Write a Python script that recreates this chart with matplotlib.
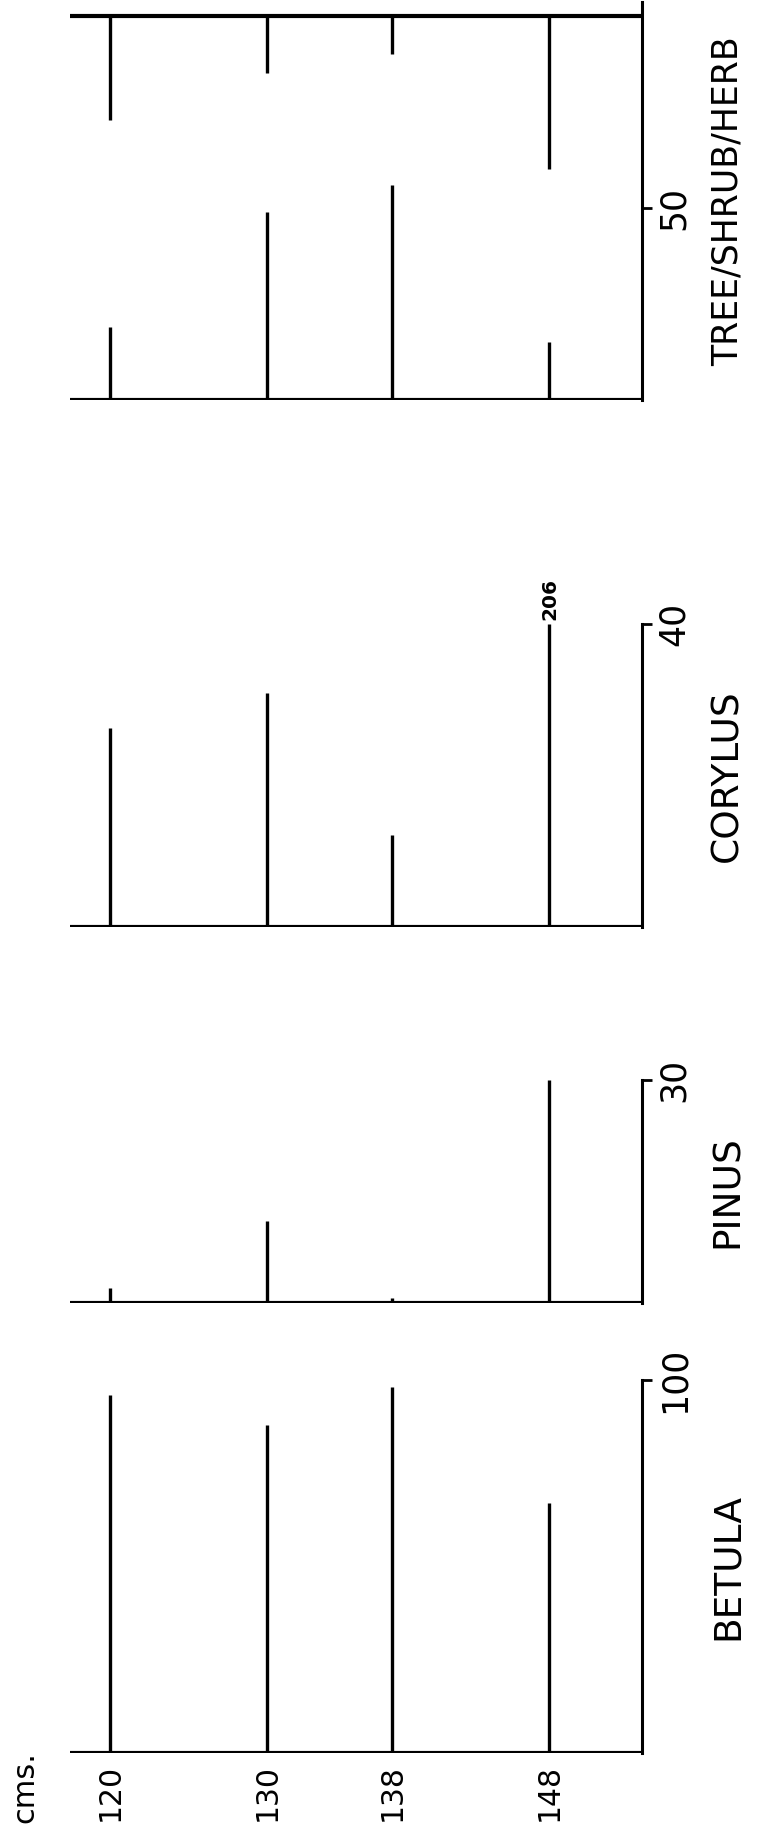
import numpy as np
import matplotlib
matplotlib.use("Agg")
import matplotlib.pyplot as plt

depths = [120, 130, 138, 148]
depth_labels = ["120", "130", "138", "148"]

betula = [96, 88, 98, 67]
pinus = [2, 11, 0.7, 30]
corylus = [26.3, 30.9, 12.1, 206]
tree = [19, 49, 56, 15]
herb = [27, 15, 10, 40]

W, H = 758, 1827
plt.rcParams['font.family'] = ['DejaVu Sans']

fig = plt.figure(figsize=(W / 100, H / 100), dpi=100)


def make_ax(y_base, y_top, ymax, tick, name, name_size=27):
    ax = fig.add_axes([70 / W, (H - y_base) / H, 572 / W, (y_base - y_top) / H])
    ax.set_xlim(117.45, 153.9)
    ax.set_ylim(0, ymax)
    for s in ['top', 'left', 'bottom']:
        ax.spines[s].set_visible(False)
    ax.spines['right'].set_linewidth(2.2)
    ax.spines['right'].set_bounds(0, ymax)
    ax.yaxis.tick_right()
    ax.set_yticks([tick])
    ax.set_yticklabels([str(tick)], rotation=90, va='center', fontsize=25)
    ax.tick_params(axis='y', direction='out', length=7, width=2, pad=4)
    ax.set_xticks([])
    ax.axhline(0, color='black', lw=3, solid_capstyle='butt')
    ax.text(1.15, 0.5, name, transform=ax.transAxes, rotation=90,
            ha='center', va='center', fontsize=name_size)
    ax.patch.set_alpha(0)
    return ax


# Betula
ax1 = make_ax(1753, 1380, 100, 100, "BETULA")
ax1.vlines(depths, 0, betula, color='black', lw=2.4)
ax1.set_xticks(depths)
ax1.set_xticklabels(depth_labels, rotation=90, fontsize=21.5)
ax1.tick_params(axis='x', length=0, pad=8)
fig.text(25 / W, 1 - 1787 / H, "cms.", rotation=90, ha='center', va='center', fontsize=22)

# Pinus
ax2 = make_ax(1303, 1080, 30, 30, "PINUS")
ax2.vlines(depths, 0, pinus, color='black', lw=2.4)

# Corylus
ax3 = make_ax(927, 624, 40, 40, "CORYLUS")
ax3.vlines(depths, 0, np.minimum(corylus, 40), color='black', lw=2.4)
for d, v in zip(depths, corylus):
    if v > 40:
        ax3.annotate(str(v), (d, 40), xytext=(0, 3), textcoords='offset points',
                     rotation=90, ha='center', va='bottom', fontsize=14.5, fontweight='bold')

# Tree / shrub / herb
ax4 = make_ax(400, 2, 103.6, 50, "TREE/SHRUB/HERB", name_size=25)
ax4.axhline(100, color='black', lw=3, solid_capstyle='butt')
ax4.vlines(depths, 0, tree, color='black', lw=2.4)
ax4.vlines(depths, 100 - np.array(herb), 100, color='black', lw=2.4)

fig.savefig("out.png", dpi=100)
